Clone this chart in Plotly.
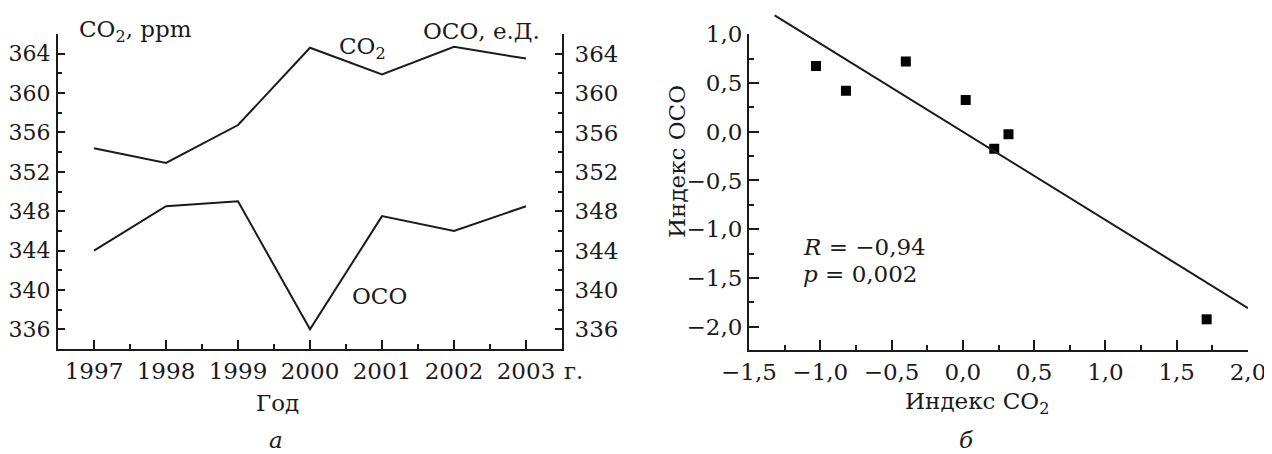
import plotly.graph_objects as go

# panel a: yearly series
years = [1997, 1998, 1999, 2000, 2001, 2002, 2003]
co2_ppm = [354.4, 352.9, 356.75, 364.6, 361.9, 364.7, 363.5]
oco_units = [344.0, 348.5, 349.0, 336.0, 347.5, 346.0, 348.5]

# panel b: indices and regression line
co2_index = [-1.03, -0.82, -0.40, 0.02, 0.22, 0.32, 1.71]
oco_index = [0.675, 0.42, 0.72, 0.325, -0.175, -0.025, -1.925]
fit_x = [-1.32, 2.0]
fit_y = [1.195, -1.81]

W, H = 1272, 454
FONT = "DejaVu Serif"
INK = "#1a1a1a"
FS = 23
OFF = 8  # page body margin


def px(x):
    return (x - OFF) / W


def py(y):
    return 1 - (y - OFF) / H


fig = go.Figure()

fig.add_trace(go.Scatter(x=years, y=co2_ppm, mode="lines", line=dict(color=INK, width=2),
                         xaxis="x", yaxis="y", showlegend=False))
fig.add_trace(go.Scatter(x=years, y=oco_units, mode="lines", line=dict(color=INK, width=2),
                         xaxis="x", yaxis="y2", showlegend=False))

fig.add_trace(go.Scatter(x=fit_x, y=fit_y, mode="lines", line=dict(color=INK, width=2),
                         xaxis="x3", yaxis="y4", showlegend=False))
fig.add_trace(go.Scatter(x=co2_index, y=oco_index, mode="markers",
                         marker=dict(symbol="square", size=10, color="black"),
                         xaxis="x2", yaxis="y3", showlegend=False))

tick_font = dict(family=FONT, size=FS, color=INK)
axis_common = dict(showline=True, linecolor=INK, linewidth=2, ticks="inside", tickcolor=INK,
                   tickwidth=2, showgrid=False, zeroline=False, tickfont=tick_font,
                   automargin=False)

# panel b: main y axis range and an extended one so the fit line can rise above the top tick
yb_lo, yb_hi, yb_ext = -2.24, 1.0, 1.22
yb_bot, yb_top = py(350), py(34.3)
yb_ext_top = yb_bot + (yb_top - yb_bot) * (yb_ext - yb_lo) / (yb_hi - yb_lo)

fig.update_layout(
    width=W, height=H,
    margin=dict(l=0, r=0, t=0, b=0),
    paper_bgcolor="white", plot_bgcolor="rgba(0,0,0,0)",
    separators=", ",
    font=dict(family=FONT, size=FS, color=INK),
    xaxis=dict(axis_common, domain=[px(58), px(562)], range=[1996.5, 2003.5], anchor="y",
               tickvals=years, ticklen=9, ticklabelstandoff=0,
               minor=dict(dtick=0.5, ticks="inside", ticklen=5, tickcolor=INK, tickwidth=2)),
    yaxis=dict(axis_common, domain=[py(349), py(34)], range=[334, 366], anchor="x",
               tick0=336, dtick=4, ticklen=7, ticklabelstandoff=1,
               tickfont=dict(family=FONT, size=22, color=INK),
               minor=dict(dtick=2, ticks="inside", ticklen=4, tickcolor=INK, tickwidth=2)),
    yaxis2=dict(axis_common, overlaying="y", side="right", range=[334, 366], anchor="x",
                tick0=336, dtick=4, ticklen=7, ticklabelstandoff=6,
                minor=dict(dtick=2, ticks="inside", ticklen=4, tickcolor=INK, tickwidth=2)),
    xaxis2=dict(axis_common, domain=[px(749), px(1248)], range=[-1.5, 2.0], anchor="y3",
                tick0=0, dtick=0.5, tickformat=".1f", ticklen=10, ticklabelstandoff=0,
                minor=dict(dtick=0.25, ticks="inside", ticklen=5, tickcolor=INK, tickwidth=2)),
    yaxis3=dict(axis_common, domain=[yb_bot, yb_top], range=[yb_lo, yb_hi], anchor="x2",
                tick0=0, dtick=0.5, tickformat=".1f", ticklen=10, ticklabelstandoff=0,
                minor=dict(dtick=0.25, ticks="inside", ticklen=5, tickcolor=INK, tickwidth=2)),
    xaxis3=dict(domain=[px(749), px(1248)], range=[-1.5, 2.0], anchor="y4", visible=False,
                automargin=False),
    yaxis4=dict(domain=[yb_bot, yb_ext_top], range=[yb_lo, yb_ext], anchor="x3", visible=False,
                automargin=False),
)

ann = [
    dict(text="CO<sub>2</sub>, ppm", x=px(77), y=py(31), xanchor="left"),
    dict(text="ОСО, е.Д.", x=px(542), y=py(31), xanchor="right"),
    dict(text="CO<sub>2</sub>", x=2000.73, y=364.6, xref="x", yref="y"),
    dict(text="ОСО", x=2000.97, y=339.4, xref="x", yref="y"),
    dict(text="г.", x=px(562), y=py(371), xanchor="left"),
    dict(text="Год", x=px(277), y=py(403)),
    dict(text="<i>а</i>", x=px(276), y=py(440)),
    dict(text="Индекс CO<sub>2</sub>", x=px(977), y=py(403)),
    dict(text="Индекс ОСО", x=px(677), y=py(162), textangle=-90),
    dict(text="<i>R</i> = −0,94", x=px(801), y=py(247), xanchor="left"),
    dict(text="<i>p</i> = 0,002", x=px(801), y=py(274), xanchor="left"),
    dict(text="<i>б</i>", x=px(966), y=py(440)),
]
for a in ann:
    a.setdefault("xref", "paper")
    a.setdefault("yref", "paper")
    a.setdefault("xanchor", "center")
    a.setdefault("yanchor", "middle")
    a["showarrow"] = False
    a["font"] = dict(family=FONT, size=FS, color=INK)
fig.update_layout(annotations=ann)

fig.write_html("out.html")
